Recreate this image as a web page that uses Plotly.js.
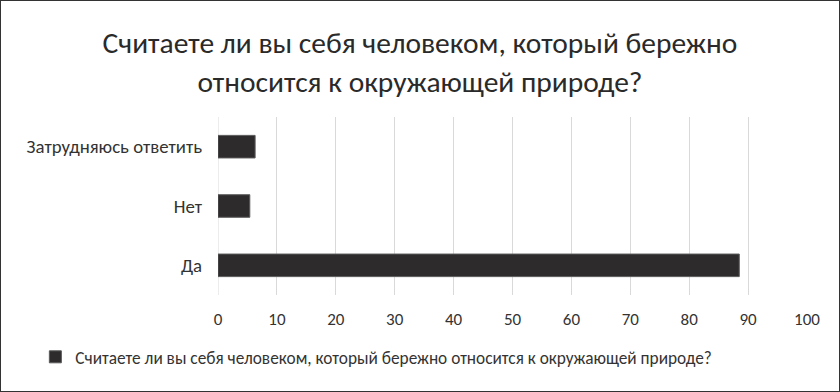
<!DOCTYPE html>
<html><head><meta charset="utf-8">
<script src="https://cdn.plot.ly/plotly-3.0.1.min.js"></script>
<style>html,body{margin:0;padding:0;background:#fff}#c{width:838px;height:390px;border:1px solid #333;}</style>
</head><body><div id="c"></div>
<script>
const categories = ["Да", "Нет", "Затрудняюсь ответить"];
const values = [88.5, 5.4, 6.3];
const seriesName = "Считаете ли вы себя человеком, который бережно относится к окружающей природе?";
const titleText = "Считаете ли вы себя человеком, который бережно<br>относится к окружающей природе?";
const xTicks = [0,10,20,30,40,50,60,70,80,90,100];
const FONT = "Carlito, Calibri, Lato, sans-serif";
Plotly.newPlot('c', [{
  type: 'bar', orientation: 'h', y: categories, x: values, name: seriesName,
  marker: {color: '#2e2b2c', line: {color: '#5a5a5a', width: 1}},
  showlegend: true
}], {
  width: 838, height: 390,
  margin: {l: 217, r: 32, t: 116, b: 96},
  paper_bgcolor: '#fff', plot_bgcolor: '#fff',
  font: {family: FONT, color: '#333'},
  bargap: 0.62,
  title: {text: titleText, font: {family: FONT, size: 29.5, color: '#2a2a2a'}, x: 0.5, xanchor: 'center', y: 0.866, yanchor: 'top', yref: 'container'},
  xaxis: {range: [0, 100], tickvals: xTicks, ticktext: xTicks.map(String), showgrid: true, gridcolor: '#d9d9d9', gridwidth: 1, zeroline: false, showline: false, ticks: '', ticklabelstandoff: 12, tickfont: {size: 17, color: '#333'}, fixedrange: true},
  yaxis: {type: 'category', categoryarray: categories, showgrid: false, zeroline: false, showline: false, ticks: '', ticklabelstandoff: 15, tickfont: {size: 18.8, color: '#333'}},
  legend: {orientation: 'h', xref: 'container', x: 0.041, xanchor: 'left', yref: 'container', y: 0.087, yanchor: 'middle', font: {size: 17.3, color: '#333'}, itemwidth: 30},
  shapes: [{type:'line', xref:'x', yref:'paper', x0:0, x1:0, y0:0, y1:1, line:{color:'#d9d9d9', width:1}, layer:'below'}]
}, {staticPlot: true});
</script></body></html>
